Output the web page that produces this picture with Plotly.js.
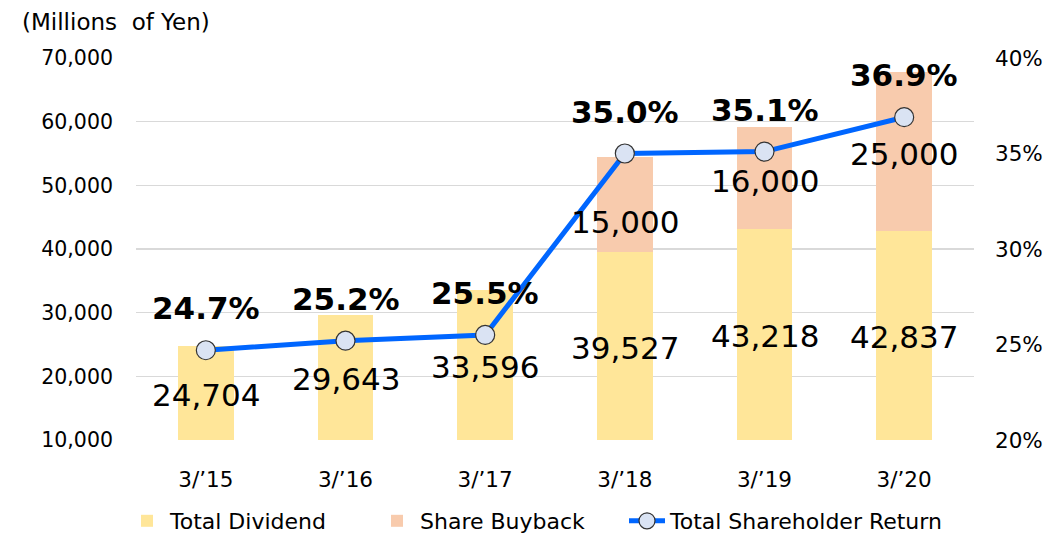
<!DOCTYPE html>
<html>
<head>
<meta charset="utf-8">
<script src="https://cdn.plot.ly/plotly-3.0.1.min.js"></script>
<style>
html,body{margin:0;padding:0;background:#fff;}
#chart{width:1049px;height:538px;}
</style>
</head>
<body>
<div id="chart"></div>
<script>
// ---- data ----
const categories = ["3/\u201915", "3/\u201916", "3/\u201917", "3/\u201918", "3/\u201919", "3/\u201920"];
const totalDividend = [24704, 29643, 33596, 39527, 43218, 42837];
const shareBuyback = [0, 0, 0, 15000, 16000, 25000];
const totalReturnRatio = [0.247, 0.252, 0.255, 0.350, 0.351, 0.369];
const dividendLabels = ["24,704", "29,643", "33,596", "39,527", "43,218", "42,837"];
const buybackLabels = ["", "", "", "15,000", "16,000", "25,000"];
const ratioLabels = ["24.7%", "25.2%", "25.5%", "35.0%", "35.1%", "36.9%"];

// ---- layout helpers (positions/styles, not data) ----
const yMin = 10000, yMax = 70000;
const buybackShift = [0, 0, 0, -18, -3, -3];
const FONT = "DejaVu Sans, Verdana, sans-serif";
const PL = 136, PW = 838, PT = 58, PH = 382;
const px2x = p => (p - PL) / PW;
const py2y = p => 1 - (p - PT) / PH;

const traces = [
  {
    type: "bar", name: "Total Dividend", x: categories, y: totalDividend,
    marker: {color: "#FFE699"}, width: 0.4, hoverinfo: "skip", legend: "legend"
  },
  {
    type: "bar", name: "Share Buyback", x: categories, y: shareBuyback,
    marker: {color: "#F8CBAD"}, width: 0.4, hoverinfo: "skip", legend: "legend2"
  },
  {
    type: "scatter", mode: "lines+markers", name: "Total Shareholder Return",
    x: categories, y: totalReturnRatio, yaxis: "y2",
    line: {color: "#0066FF", width: 5},
    marker: {size: 19, color: "#DAE3F3", line: {color: "#333333", width: 1.2}},
    hoverinfo: "skip", legend: "legend3"
  }
];

const annotations = [];
categories.forEach((c, i) => {
  annotations.push({
    x: c, y: (yMin + totalDividend[i]) / 2, xref: "x", yref: "y",
    text: dividendLabels[i], showarrow: false, yshift: -2,
    font: {family: FONT, size: 31, color: "#000"}
  });
  if (shareBuyback[i] > 0) {
    annotations.push({
      x: c, y: totalDividend[i] + shareBuyback[i] / 2, xref: "x", yref: "y",
      text: buybackLabels[i], showarrow: false, yshift: buybackShift[i],
      font: {family: FONT, size: 31, color: "#000"}
    });
  }
  annotations.push({
    x: c, y: totalReturnRatio[i], xref: "x", yref: "y2",
    text: "<b>" + ratioLabels[i] + "</b>", showarrow: false, yshift: 42,
    font: {family: FONT, size: 31, color: "#000"}
  });
});
annotations.push({
  xref: "paper", yref: "paper", x: px2x(20), y: py2y(22),
  xanchor: "left", yanchor: "middle", showarrow: false,
  text: "(Millions\u00a0 of Yen)",
  font: {family: FONT, size: 23, color: "#000"}
});

const legendBase = {
  orientation: "h", xanchor: "left", yanchor: "top", y: py2y(500),
  font: {family: FONT, size: 22, color: "#000"},
  itemwidth: 36, bgcolor: "rgba(0,0,0,0)"
};

const layout = {
  width: 1049, height: 538,
  margin: {l: PL, r: 1049 - PL - PW, t: PT, b: 538 - PT - PH, pad: 0, autoexpand: false},
  paper_bgcolor: "#fff", plot_bgcolor: "#fff",
  barmode: "stack",
  showlegend: true,
  font: {family: FONT, size: 20, color: "#000"},
  xaxis: {
    type: "category", showgrid: false, zeroline: false, showline: false,
    ticks: "", ticklabelstandoff: 24, tickfont: {family: FONT, size: 21.5, color: "#000"}
  },
  yaxis: {
    range: [yMin, yMax], dtick: 10000, tickformat: ",d",
    showgrid: true, gridcolor: "#D9D9D9", gridwidth: 1.3, zeroline: false, showline: false,
    ticks: "", ticklabelstandoff: 22, tickfont: {family: FONT, size: 20.5, color: "#000"}
  },
  yaxis2: {
    overlaying: "y", side: "right", range: [0.2, 0.4], dtick: 0.05, tickformat: ".0%",
    showgrid: false, zeroline: false, showline: false,
    ticks: "", ticklabelstandoff: 20, tickfont: {family: FONT, size: 21.5, color: "#000"}
  },
  legend: Object.assign({}, legendBase, {x: px2x(124)}),
  legend2: Object.assign({}, legendBase, {x: px2x(374)}),
  legend3: Object.assign({}, legendBase, {x: px2x(624)}),
  annotations: annotations
};

Plotly.newPlot("chart", traces, layout, {staticPlot: true, displayModeBar: false});
</script>
</body>
</html>
